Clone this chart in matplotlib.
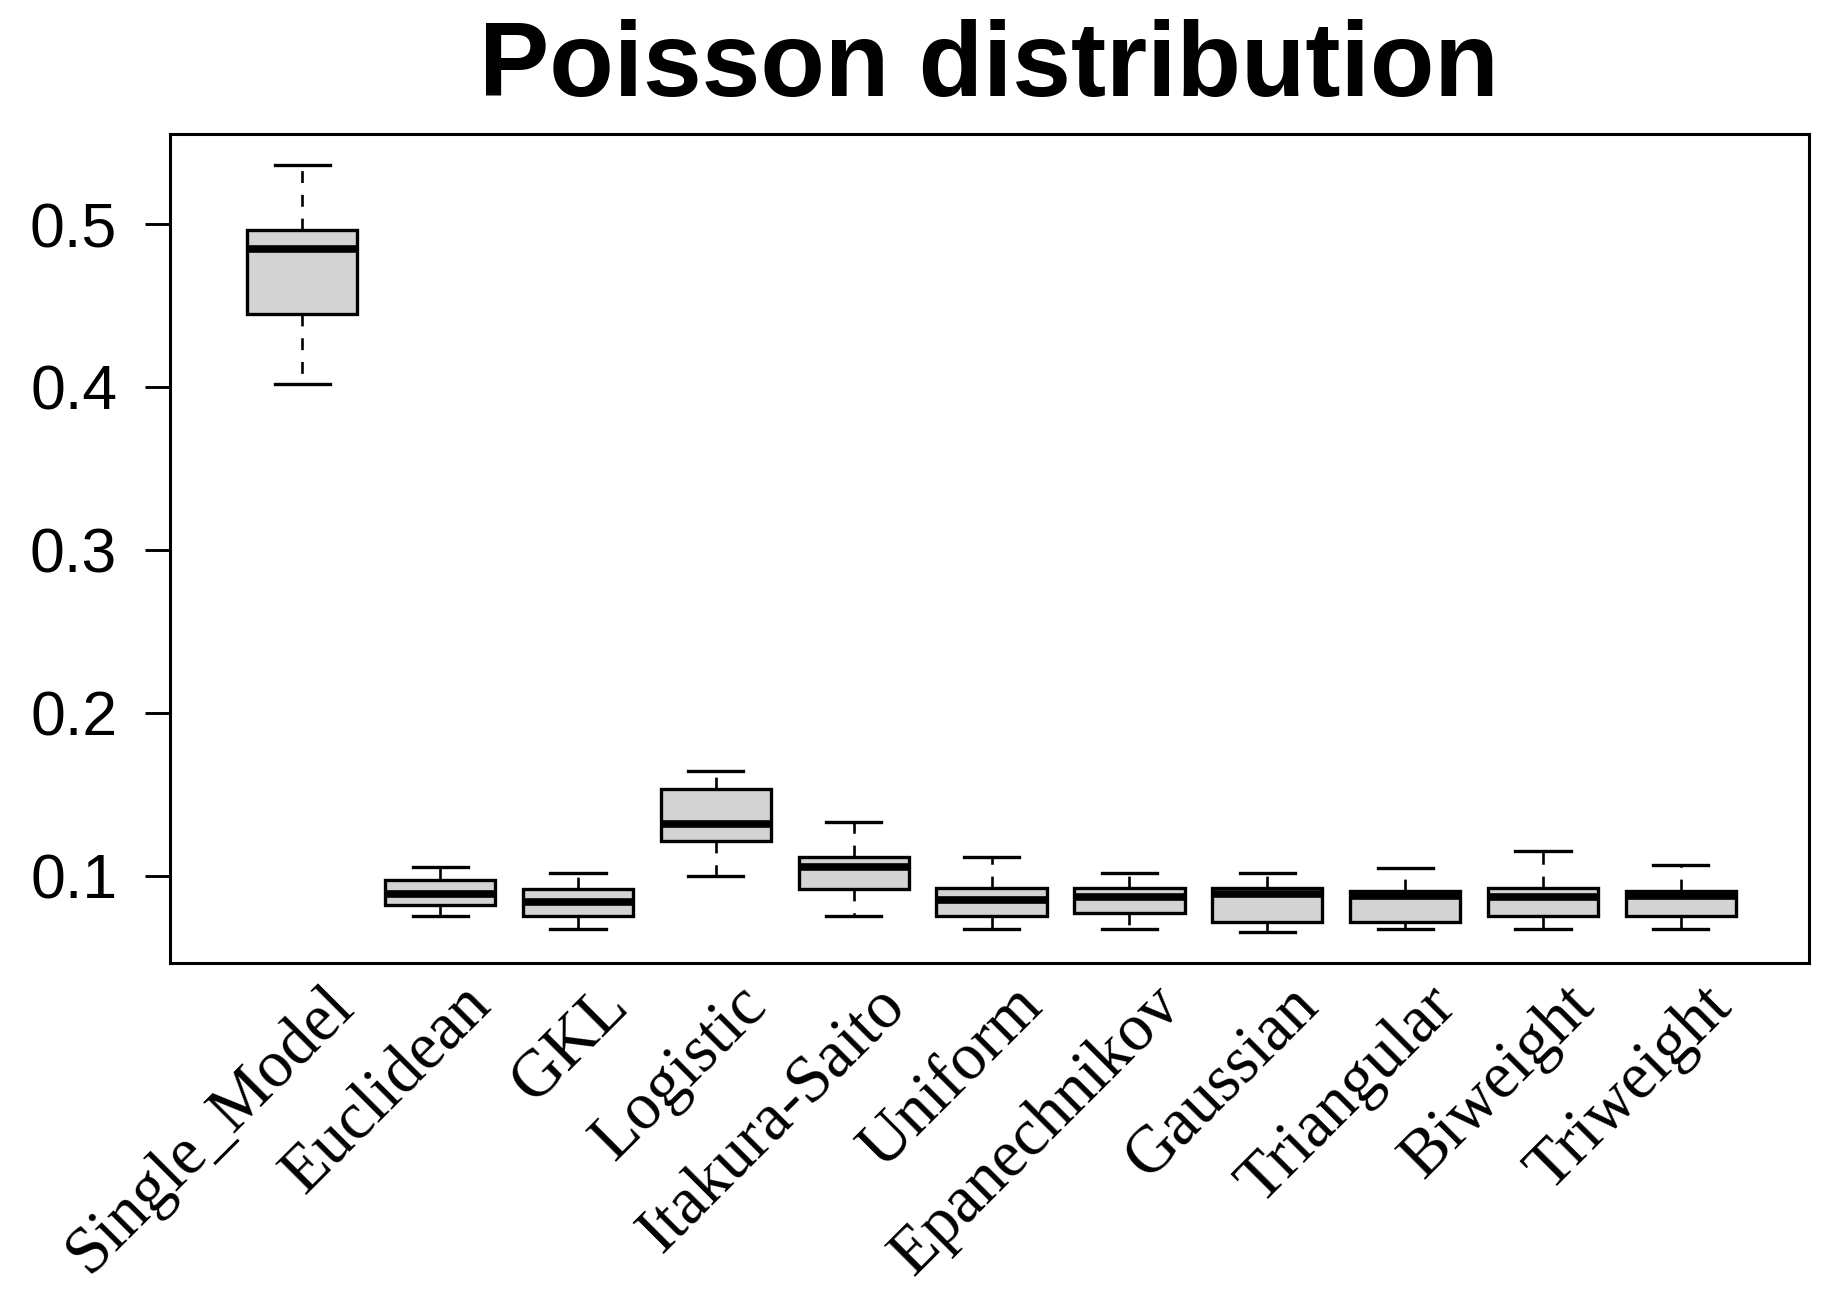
import matplotlib
matplotlib.use("Agg")
import matplotlib.pyplot as plt
import matplotlib.transforms as mtransforms

# ── data ──────────────────────────────────────────────────────────────
methods = ["Single_Model", "Euclidean", "GKL", "Logistic", "Itakura-Saito",
           "Uniform", "Epanechnikov", "Gaussian", "Triangular", "Biweight",
           "Triweight"]
whislo = [0.4020, 0.0754, 0.0671, 0.1000, 0.0754, 0.0671, 0.0671, 0.0653, 0.0671, 0.0671, 0.0671]
q1     = [0.4450, 0.0818, 0.0752, 0.1214, 0.0919, 0.0751, 0.0768, 0.0718, 0.0718, 0.0751, 0.0751]
med    = [0.4848, 0.0886, 0.0837, 0.1318, 0.1051, 0.0852, 0.0869, 0.0888, 0.0873, 0.0869, 0.0873]
q3     = [0.4965, 0.0971, 0.0921, 0.1530, 0.1116, 0.0922, 0.0922, 0.0922, 0.0905, 0.0922, 0.0905]
whishi = [0.5363, 0.1050, 0.1016, 0.1645, 0.1330, 0.1116, 0.1017, 0.1017, 0.1048, 0.1150, 0.1066]
yticks = [0.1, 0.2, 0.3, 0.4, 0.5]

FILL = "#D3D3D3"

fig = plt.figure(figsize=(18.42, 13.03), dpi=100)
ax = fig.add_axes([0.0923, 0.2611, 0.8898, 0.6358])

stats = [dict(label=m, whislo=a, q1=b, med=c, q3=d, whishi=e)
         for m, a, b, c, d, e in zip(methods, whislo, q1, med, q3, whishi)]
pos = list(range(1, len(methods) + 1))

ax.bxp(stats, positions=pos, widths=0.8, capwidths=0.4,
       showfliers=False, patch_artist=True,
       boxprops=dict(facecolor=FILL, edgecolor="black", linewidth=2.4),
       medianprops=dict(color="black", linewidth=5.5, solid_capstyle="butt"),
       whiskerprops=dict(color="black", linewidth=1.9, linestyle=(0, (4.5, 4.5))),
       capprops=dict(color="black", linewidth=2.4))

ax.set_xlim(0.04, 11.93)
ax.set_ylim(0.0465, 0.5551)

ax.set_yticks(yticks)
ax.set_yticklabels([f"{v:.1f}" for v in yticks], family="Liberation Sans", fontsize=45)
ax.tick_params(axis="y", length=18, width=2.1, pad=20)
ax.set_xticks([])

for s in ax.spines.values():
    s.set_linewidth(2.2)

# rotated serif labels under the boxes
trans = mtransforms.blended_transform_factory(ax.transData, ax.transAxes)
for p, m in zip(pos, methods):
    ax.text(p + 0.30, -0.040, m, transform=trans, rotation=45,
            rotation_mode="anchor", ha="right", va="center",
            family="Liberation Serif", fontsize=48, clip_on=False)

fig.text(0.537, 0.9266, "Poisson distribution", ha="center", va="baseline",
         family="Liberation Sans", fontweight="bold", fontsize=76)

fig.savefig("out.png", dpi=100)
plt.close(fig)
